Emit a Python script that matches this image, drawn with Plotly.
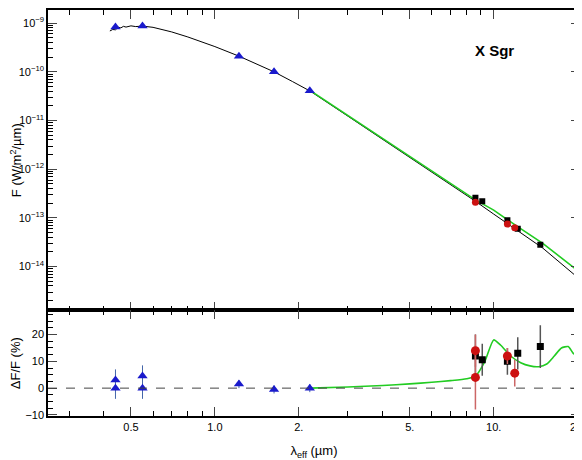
import plotly.graph_objects as go
from plotly.subplots import make_subplots
import numpy as np

# SED data
spec_lam = [0.42,0.43,0.44,0.45,0.46,0.47,0.48,0.50,0.52,0.55,0.60,0.70,0.80,0.90,1.0,1.22,1.40,1.63,1.9,2.2,3.0,4.0,5.0,7.0,8.6,10.0,12.0,15.0,20.0]
spec_f = [6.9e-10,7.4e-10,7.3e-10,8.2e-10,8.0e-10,8.6e-10,8.3e-10,8.8e-10,8.5e-10,8.7e-10,8.2e-10,6.6e-10,5.2e-10,4.1e-10,3.3e-10,2.1e-10,1.5e-10,1.0e-10,6.3e-11,4.0e-11,1.23e-11,4.1e-12,1.77e-12,4.9e-13,2.2e-13,1.2e-13,5.8e-14,2.4e-14,6.0e-15]
model_lam = [2.2,3.0,4.0,5.0,7.0,8.6,10.0,12.0,15.0,18.5,20.0]
model_f = [4.1e-11,1.27e-11,4.3e-12,1.85e-12,5.2e-13,2.35e-13,1.45e-13,7.0e-14,3.0e-14,1.15e-14,8.3e-15]
phot_lam = [0.44,0.55,1.22,1.63,2.19]
phot_f = [8.3e-10,8.7e-10,2.1e-10,1.0e-10,4.1e-11]
sq_lam = [8.6,9.1,11.2,12.2,14.7]
sq_f = [2.6e-13,2.2e-13,9.0e-14,6.0e-14,2.8e-14]
rc_lam = [8.6,11.2,11.9]
rc_f = [2.1e-13,7.5e-14,6.3e-14]

# residuals
res_model_lam = [2.2,3.0,4.0,5.0,6.0,7.0,8.0,8.6,9.3,10.0,10.6,11.5,12.5,13.5,14.5,15.5,16.5,17.5,18.5,19.3,20.0]
res_model = [0.0,0.4,1.0,1.6,2.2,2.8,3.5,4.5,10,18,16,12,9.5,8.3,8.0,9,12,15,15.5,13,12]
tri_lam = [0.44,0.44,0.55,0.55,1.22,1.63,2.19]
tri_res = [3.0,0.0,4.5,0.0,1.5,-0.5,0.0]
tri_err = [4,4,4,4,1.5,1.5,1.5]
sq_res = [12,10.6,10,13,15.5]
sq_err = [8,6,5,6,8]
rc_lam_r = [8.6,8.6,11.2,11.9]
rc_res = [14,4,12,5.6]
rc_err = [6,12,3,5]

fig = make_subplots(rows=2, cols=1, shared_xaxes=True, vertical_spacing=0, row_heights=[0.74,0.26])
fig.add_trace(go.Scatter(x=spec_lam, y=spec_f, mode='lines', line=dict(color='black', width=1)), 1, 1)
fig.add_trace(go.Scatter(x=model_lam, y=model_f, mode='lines', line=dict(color='#22cc22', width=1.6)), 1, 1)
fig.add_trace(go.Scatter(x=phot_lam, y=phot_f, mode='markers', marker=dict(symbol='triangle-up', color='#1a1acc', size=9)), 1, 1)
fig.add_trace(go.Scatter(x=sq_lam, y=sq_f, mode='markers', marker=dict(symbol='square', color='black', size=6)), 1, 1)
fig.add_trace(go.Scatter(x=rc_lam, y=rc_f, mode='markers', marker=dict(symbol='circle', color='#cc1111', size=7)), 1, 1)

fig.add_trace(go.Scatter(x=res_model_lam, y=res_model, mode='lines', line=dict(color='#22cc22', width=1.6, shape='spline', smoothing=0.6)), 2, 1)
fig.add_trace(go.Scatter(x=tri_lam, y=tri_res, mode='markers', error_y=dict(array=tri_err, color='#4466aa', thickness=1, width=0),
                         marker=dict(symbol='triangle-up', color='#1a1acc', size=9)), 2, 1)
fig.add_trace(go.Scatter(x=sq_lam, y=sq_res, mode='markers', error_y=dict(array=sq_err, color='#555555', thickness=1.5, width=0),
                         marker=dict(symbol='square', color='black', size=7)), 2, 1)
fig.add_trace(go.Scatter(x=rc_lam_r, y=rc_res, mode='markers', error_y=dict(array=rc_err, color='#cc6666', thickness=1.5, width=0),
                         marker=dict(symbol='circle', color='#cc1111', size=9)), 2, 1)

xr = [np.log10(0.252), np.log10(20.4)]
axcommon = dict(showline=True, linecolor='black', linewidth=1.5, mirror='ticks', ticks='inside', showgrid=False,
                zeroline=False, tickfont=dict(size=11, color='black'), automargin=False)
fig.update_xaxes(type='log', range=xr, tickvals=[0.5,1,2,5,10,20], ticktext=['0.5','1.0','2.','5.','10.','20.'],
                 ticklen=9, minor=dict(ticks='inside', ticklen=5, tickvals=[0.3,0.4,0.6,0.7,0.8,0.9,3,4,6,7,8,9], tickcolor='black'),
                 **axcommon)
fig.update_xaxes(showticklabels=False, row=1, col=1)
fig.update_xaxes(title=dict(text='λ<sub>eff</sub> (µm)', font=dict(size=13, color='black'), standoff=14), row=2, col=1)
exps = [-14,-13,-12,-11,-10,-9]
fig.update_yaxes(type='log', range=[-14.9, -8.73], tickvals=[10.0**e for e in exps],
                 ticktext=['10<sup>−%d</sup>' % -e for e in exps], ticklen=9,
                 minor=dict(ticks='inside', ticklen=5, dtick='D1', tickcolor='black'),
                 title=dict(text='F (W/m<sup>2</sup>/µm)', font=dict(size=13, color='black'), standoff=2), row=1, col=1, **axcommon)
fig.update_yaxes(range=[-10.4, 29], tickvals=[-10,0,10,20], ticklen=9,
                 minor=dict(ticks='inside', ticklen=5, dtick=2.5, tickcolor='black'),
                 title=dict(text='ΔF/F (%)', font=dict(size=13, color='black'), standoff=2), row=2, col=1, **axcommon)
fig.add_shape(type='line', xref='x2 domain', x0=0, x1=1, yref='y2', y0=0, y1=0, line=dict(color='#444', width=1, dash='dash'))
fig.add_annotation(text='<b>X Sgr</b>', xref='paper', yref='paper', x=0.88, y=0.925, showarrow=False,
                   font=dict(size=15, color='black'))
fig.update_layout(width=582, height=460, margin=dict(l=40, r=10, t=2, b=52), showlegend=False,
                  plot_bgcolor='white', paper_bgcolor='white', font=dict(family='Liberation Sans, Arial'))
fig.write_html('out.html')
